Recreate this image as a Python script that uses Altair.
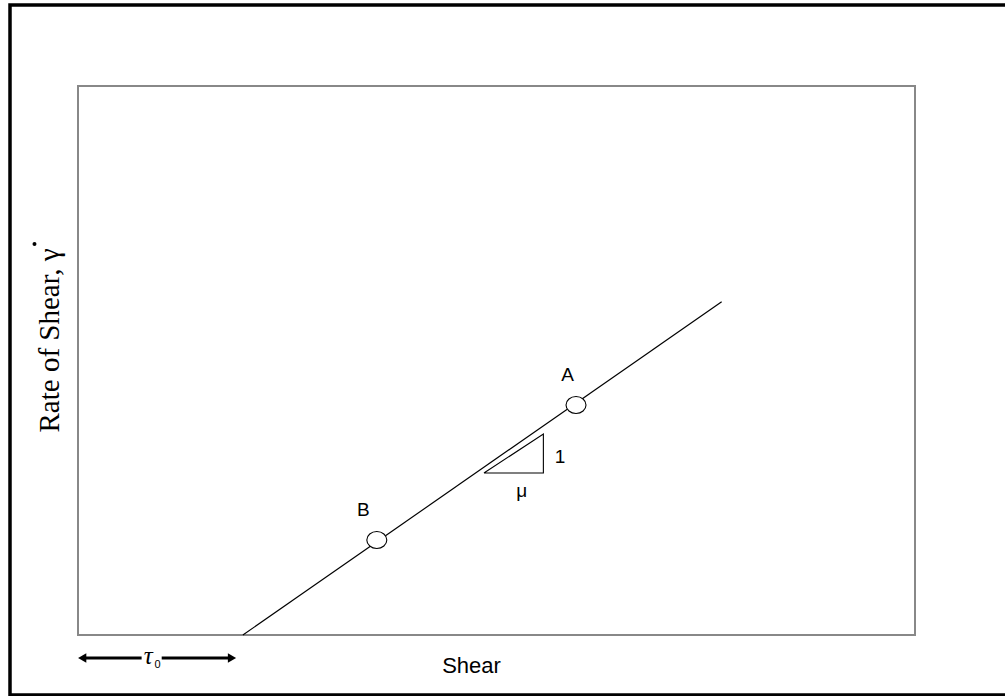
import altair as alt
import pandas as pd

# ---- data (in chart units: shear 0-10, rate 0-10) ----
line_shear = [1.97, 7.69]
line_rate = [0.0, 6.07]

pt_names = ["A", "B"]
pt_shear = [5.95, 3.57]
pt_rate = [4.19, 1.73]
lab_shear = [5.85, 3.41]
lab_rate = [4.63, 2.17]

tri_shear = [4.85, 5.56, 5.56, 4.85]
tri_rate = [2.95, 2.95, 3.66, 2.95]
tri_order = [0, 1, 2, 3]

slope_text = ["1", "μ"]
slope_shear = [5.76, 5.30]
slope_rate = [3.13, 2.51]

# tau_0 dimension arrow below the axis
tau_rate = -0.42
tau_seg_start = [0.05, 1.00]
tau_seg_end = [0.76, 1.84]
tau_head_shear = [0.05, 1.84]
tau_head_shape = ["triangle-left", "triangle-right"]
tau_sym_shear = [0.84]
tau_sym_rate = [-0.52]
tau_sub_shear = [0.95]
tau_sub_rate = [-0.60]

# dot of gamma-dot on the rotated y title
dot_shear = [-0.52]
dot_rate = [7.12]

W, H = 837, 549

xs = alt.Scale(domain=[0, 10], nice=False, zero=False)
ys = alt.Scale(domain=[0, 10], nice=False, zero=False)

x_axis = alt.Axis(
    title="Shear", domain=False, ticks=False, labels=False, grid=False,
    titleFont="Liberation Sans", titleFontSize=22, titleFontWeight="normal",
    titleColor="black", titleX=393, titleY=37, titleBaseline="alphabetic",
    titleAlign="center",
)
y_axis = alt.Axis(
    title="Rate of Shear, γ", domain=False, ticks=False, labels=False, grid=False,
    titleFont="Liberation Serif", titleFontSize=29, titleFontWeight="normal",
    titleColor="black", titleAngle=270, titleX=-20, titleY=254,
    titleBaseline="alphabetic", titleAlign="center",
)


def X(field="shear"):
    return alt.X(f"{field}:Q", scale=xs, axis=x_axis)


def Y(field="rate"):
    return alt.Y(f"{field}:Q", scale=ys, axis=y_axis)


line_df = pd.DataFrame({"shear": line_shear, "rate": line_rate})
pts_df = pd.DataFrame({"name": pt_names, "shear": pt_shear, "rate": pt_rate})
lab_df = pd.DataFrame({"name": pt_names, "shear": lab_shear, "rate": lab_rate})
tri_df = pd.DataFrame({"shear": tri_shear, "rate": tri_rate, "o": tri_order})
slope_df = pd.DataFrame({"t": slope_text, "shear": slope_shear, "rate": slope_rate})
seg_df = pd.DataFrame({"shear": tau_seg_start, "shear2": tau_seg_end,
                       "rate": [tau_rate] * 2})
head_df = pd.DataFrame({"shear": tau_head_shear, "rate": [tau_rate] * 2,
                        "shape": tau_head_shape})
tau_df = pd.DataFrame({"shear": tau_sym_shear, "rate": tau_sym_rate, "t": ["τ"]})
sub_df = pd.DataFrame({"shear": tau_sub_shear, "rate": tau_sub_rate, "t": ["0"]})
dot_df = pd.DataFrame({"shear": dot_shear, "rate": dot_rate})

frame = alt.Chart(pd.DataFrame({"k": [0]})).mark_rect(
    fill=None, stroke="black", strokeWidth=3.5
).encode(x=alt.value(-68), x2=alt.value(940), y=alt.value(-81), y2=alt.value(609))

main_line = alt.Chart(line_df).mark_line(color="black", strokeWidth=1.2).encode(
    x=X(), y=Y())

triangle = alt.Chart(tri_df).mark_line(color="black", strokeWidth=1.1).encode(
    x=X(), y=Y(), order="o:Q")

points = alt.Chart(pts_df).mark_point(
    shape="M-1,0A1,0.85 0 1,1 1,0A1,0.85 0 1,1 -1,0Z",
    size=400, filled=True, fill="white", stroke="black", strokeWidth=1.1,
    opacity=1,
).encode(x=X(), y=Y())

labels = alt.Chart(lab_df).mark_text(
    font="Liberation Sans", fontSize=19, color="black", baseline="alphabetic",
    align="center").encode(x=X(), y=Y(), text="name:N")

slope_labels = alt.Chart(slope_df).mark_text(
    font="Liberation Sans", fontSize=19, color="black", baseline="alphabetic",
    align="center").encode(x=X(), y=Y(), text="t:N")

segs = alt.Chart(seg_df).mark_rule(color="black", strokeWidth=3).encode(
    x=X(), x2="shear2:Q", y=Y())

heads = alt.Chart(head_df).mark_point(
    filled=True, color="black", size=90, opacity=1).encode(
    x=X(), y=Y(), shape=alt.Shape("shape:N", scale=None))

tau = alt.Chart(tau_df).mark_text(
    font="Liberation Serif", fontSize=25, fontStyle="italic", color="black",
    baseline="alphabetic", align="center").encode(x=X(), y=Y(), text="t:N")

tau_sub = alt.Chart(sub_df).mark_text(
    font="Liberation Sans", fontSize=11, color="black",
    baseline="alphabetic", align="center").encode(x=X(), y=Y(), text="t:N")

dot = alt.Chart(dot_df).mark_point(
    shape="circle", filled=True, color="black", size=16, opacity=1).encode(
    x=X(), y=Y())

chart = alt.layer(
    frame, main_line, triangle, points, labels, slope_labels,
    segs, heads, tau, tau_sub, dot,
).properties(
    width=W, height=H,
    autosize=alt.AutoSizeParams(type="none"),
    padding={"left": 78, "top": 86, "right": 90, "bottom": 61},
    background="white",
).configure_view(
    stroke="#888888", strokeWidth=2
)

chart.save("out.html", embed_options={"renderer": "svg", "actions": False})
